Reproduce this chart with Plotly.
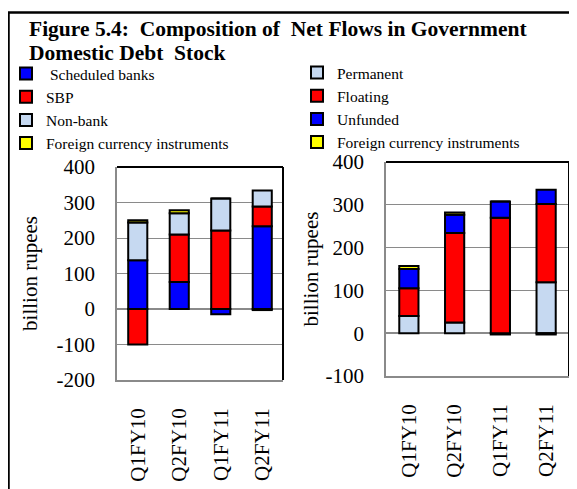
import plotly.graph_objects as go

# ---- data ----
quarters = ["Q1FY10", "Q2FY10", "Q1FY11", "Q2FY11"]

# left panel: by holder (billion rupees)
scheduled_banks = [137, 76, -15, 233]
sbp = [-100, 134, 221, 56]
non_bank = [107, 60, 90, 45]
fc_left = [6, 8, 0, -3]

# right panel: by instrument (billion rupees)
permanent = [40, 25, -3, 119]
floating = [65, 209, 270, 183]
unfunded = [45, 43, 38, 33]
fc_right = [7, 5, 0, -3]

# y tick labels
left_ticks = [-200, -100, 0, 100, 200, 300, 400]
left_ticklabels = ["-200", "-100", "0", "100", "200", "300", "400"]
right_ticks = [-100, 0, 100, 200, 300, 400]
right_ticklabels = ["-100", "0", "100", "200", "300", "400"]

BLUE = "#0000FF"
RED = "#FF0000"
LIGHT = "#C6D9F1"
YELLOW = "#FFFF00"
FONT = "Liberation Serif"
W, H = 577, 489
OFF = 8  # page offset of the figure inside the window


def px(x):
    return (x - OFF) / W


def py(y):
    return 1 - (y - OFF) / H


fig = go.Figure()


def add_bar(name, vals, color, xa, ya, legend, width):
    fig.add_trace(go.Bar(
        name=name, x=quarters, y=vals, xaxis=xa, yaxis=ya, legend=legend,
        width=width,
        marker=dict(color=color, line=dict(color="black", width=2)),
        hoverinfo="x+y+name",
    ))


add_bar(" Scheduled banks", scheduled_banks, BLUE, "x", "y", "legend", 0.46)
add_bar("SBP", sbp, RED, "x", "y", "legend", 0.46)
add_bar("Non-bank", non_bank, LIGHT, "x", "y", "legend", 0.46)
add_bar("Foreign currency instruments", fc_left, YELLOW, "x", "y", "legend", 0.46)

add_bar("Permanent", permanent, LIGHT, "x2", "y2", "legend2", 0.42)
add_bar("Floating", floating, RED, "x2", "y2", "legend2", 0.42)
add_bar("Unfunded", unfunded, BLUE, "x2", "y2", "legend2", 0.42)
add_bar("Foreign currency instruments", fc_right, YELLOW, "x2", "y2", "legend2", 0.42)

GRID = "#8a8a8a"
common_x = dict(showgrid=False, showline=True, linecolor=GRID, linewidth=1.5,
                tickangle=-90, tickfont=dict(size=21, family=FONT, color="black"),
                ticks="", ticklabelstandoff=18, range=[-0.5, 3.5], type="category",
                fixedrange=True, automargin=False)
common_y = dict(showgrid=True, gridcolor=GRID, gridwidth=1.3,
                zeroline=True, zerolinecolor=GRID, zerolinewidth=1.5,
                showline=True, linecolor=GRID, linewidth=1.5,
                tickfont=dict(size=21, family=FONT, color="black"),
                ticks="", ticklabelstandoff=16, fixedrange=True, automargin=False)
title_font = dict(size=21, family=FONT, color="black")

fig.update_layout(
    width=W, height=H,
    margin=dict(l=0, r=0, t=0, b=0, autoexpand=False),
    paper_bgcolor="white", plot_bgcolor="white",
    font=dict(family=FONT, color="black"),
    barmode="relative",
    xaxis=dict(domain=[px(117), px(283)], anchor="y", **common_x),
    yaxis=dict(domain=[py(380), py(167)], anchor="x", range=[-200, 400],
               tickvals=left_ticks, ticktext=left_ticklabels,
               title=dict(text="billion rupees", font=title_font, standoff=13),
               **common_y),
    xaxis2=dict(domain=[px(386), px(569)], anchor="y2", **common_x),
    yaxis2=dict(domain=[py(376), py(162)], anchor="x2", range=[-100, 400],
                tickvals=right_ticks, ticktext=right_ticklabels,
                title=dict(text="billion rupees", font=title_font, standoff=1),
                **common_y),
    legend=dict(x=px(6), y=py(57), xanchor="left", yanchor="top",
                traceorder="normal", bgcolor="rgba(0,0,0,0)",
                font=dict(size=15.5, family=FONT, color="black")),
    legend2=dict(x=px(297), y=py(56), xanchor="left", yanchor="top",
                 traceorder="normal", bgcolor="rgba(0,0,0,0)",
                 font=dict(size=15.5, family=FONT, color="black")),
    showlegend=True,
)

# title
fig.add_annotation(text="<b>Figure 5.4:  Composition of  Net Flows in Government</b>",
                   xref="paper", yref="paper", x=px(27), y=py(29),
                   xanchor="left", yanchor="middle", showarrow=False,
                   font=dict(size=21.5, family=FONT, color="black"))
fig.add_annotation(text="<b>Domestic Debt  Stock</b>",
                   xref="paper", yref="paper", x=px(27), y=py(53),
                   xanchor="left", yanchor="middle", showarrow=False,
                   font=dict(size=21.5, family=FONT, color="black"))

# plot frames (top and right edges black)
for xr, yr in (("x domain", "y domain"), ("x2 domain", "y2 domain")):
    fig.add_shape(type="line", xref=xr, yref=yr, x0=0, x1=1, y0=1, y1=1,
                  line=dict(color="black", width=2))
    fig.add_shape(type="line", xref=xr, yref=yr, x0=1, x1=1, y0=0, y1=1,
                  line=dict(color="black", width=2))

# outer border
fig.add_shape(type="rect", xref="paper", yref="paper",
              x0=px(8.5), x1=1.02, y0=-0.02, y1=py(12.5),
              line=dict(color="black", width=2.5), fillcolor="rgba(0,0,0,0)")

fig.write_html("out.html")
